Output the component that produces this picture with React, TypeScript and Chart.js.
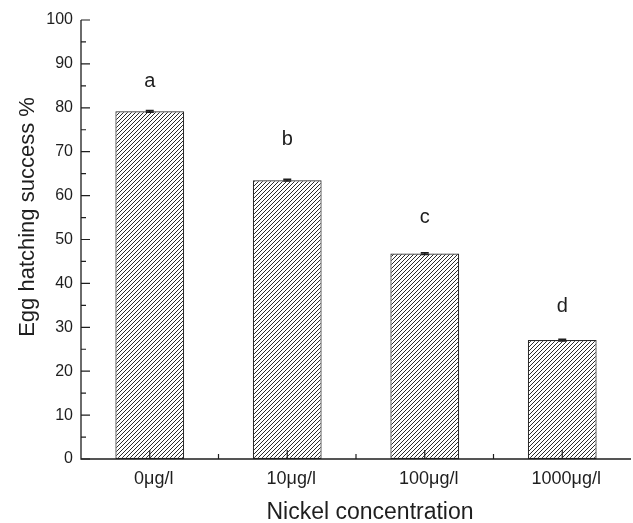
import React, { useEffect, useRef } from "react";
import { Chart, registerables } from "chart.js";

Chart.register(...registerables);

const categories = ["0μg/l", "10μg/l", "100μg/l", "1000μg/l"];
const hatchingSuccess = [79.2, 63.5, 46.8, 27.1];
const errorValues = [0.2, 0.2, 0.2, 0.2];
const letters = ["a", "b", "c", "d"];
const letterBaselines = [84.7, 71.5, 53.8, 33.5];
const yMin = 0;
const yMax = 100;
const yStep = 10;
const yMinorStep = 5;
const xTitle = "Nickel concentration";
const yTitle = "Egg hatching success %";

const FONT = "'Liberation Sans', Arial, Helvetica, sans-serif";
const INK = "#1e1e1e";

function makeHatch(): CanvasPattern | string {
  const c = document.createElement("canvas");
  c.width = 4;
  c.height = 4;
  const g = c.getContext("2d");
  if (!g) return "#ccc";
  g.fillStyle = "#ffffff";
  g.fillRect(0, 0, 4, 4);
  g.strokeStyle = "#2a2a2a";
  g.lineWidth = 1;
  g.beginPath();
  g.moveTo(-1, 5);
  g.lineTo(5, -1);
  g.moveTo(-1, 1);
  g.lineTo(1, -1);
  g.moveTo(3, 5);
  g.lineTo(5, 3);
  g.stroke();
  const p = g.createPattern(c, "repeat");
  return p || "#ccc";
}

const decorPlugin = {
  id: "decor",
  afterDatasetsDraw(chart: any) {
    const ctx: CanvasRenderingContext2D = chart.ctx;
    const { left, right, top, bottom } = chart.chartArea;
    const xs = chart.scales.x;
    const ys = chart.scales.y;
    const meta = chart.getDatasetMeta(0);
    ctx.save();

    // error bars
    ctx.strokeStyle = INK;
    ctx.lineWidth = 1.5;
    meta.data.forEach((bar: any, i: number) => {
      const v = hatchingSuccess[i];
      const e = errorValues[i];
      const yt = ys.getPixelForValue(v + e);
      const yb = ys.getPixelForValue(v - e);
      ctx.beginPath();
      ctx.moveTo(bar.x, yt);
      ctx.lineTo(bar.x, yb);
      ctx.moveTo(bar.x - 4, yt);
      ctx.lineTo(bar.x + 4, yt);
      ctx.moveTo(bar.x - 4, yb);
      ctx.lineTo(bar.x + 4, yb);
      ctx.stroke();
    });

    // letters
    ctx.fillStyle = INK;
    ctx.font = `20px ${FONT}`;
    ctx.textAlign = "center";
    ctx.textBaseline = "alphabetic";
    meta.data.forEach((bar: any, i: number) => {
      ctx.fillText(letters[i], bar.x, ys.getPixelForValue(letterBaselines[i]));
    });

    // axes
    ctx.strokeStyle = INK;
    ctx.lineWidth = 1.3;
    ctx.beginPath();
    ctx.moveTo(left, top);
    ctx.lineTo(left, bottom);
    ctx.lineTo(right, bottom);
    ctx.stroke();

    ctx.lineWidth = 1.2;
    ctx.beginPath();
    for (let v = yMin; v <= yMax + 1e-9; v += yMinorStep) {
      const y = ys.getPixelForValue(v);
      const major = Math.abs(v / yStep - Math.round(v / yStep)) < 1e-6;
      ctx.moveTo(left, y);
      ctx.lineTo(left + (major ? 9 : 5), y);
    }
    const n = categories.length;
    for (let i = 0; i < n; i++) {
      const xc = xs.getPixelForValue(i);
      ctx.moveTo(xc, bottom);
      ctx.lineTo(xc, bottom - 9);
      if (i < n - 1) {
        const xb = (xs.getPixelForValue(i) + xs.getPixelForValue(i + 1)) / 2;
        ctx.moveTo(xb, bottom);
        ctx.lineTo(xb, bottom - 5);
      }
    }
    ctx.stroke();

    // titles
    ctx.fillStyle = INK;
    ctx.font = `23px ${FONT}`;
    ctx.textAlign = "center";
    ctx.textBaseline = "alphabetic";
    ctx.fillText(xTitle, 370, 519);

    ctx.save();
    ctx.translate(34, 217);
    ctx.rotate(-Math.PI / 2);
    ctx.font = `22px ${FONT}`;
    ctx.fillText(yTitle, 0, 0);
    ctx.restore();

    ctx.restore();
  },
};

export default function App() {
  const ref = useRef<HTMLCanvasElement | null>(null);
  useEffect(() => {
    const canvas = ref.current;
    if (!canvas) return;
    const hatch = makeHatch();
    const chart = new Chart(canvas, {
      type: "bar",
      data: {
        labels: categories,
        datasets: [
          {
            data: hatchingSuccess,
            backgroundColor: hatch as any,
            borderColor: "#2a2a2a",
            borderWidth: 1.2,
            borderSkipped: false,
            barPercentage: 0.5,
            categoryPercentage: 1.0,
          },
        ],
      },
      options: {
        animation: false,
        responsive: false,
        maintainAspectRatio: false,
        devicePixelRatio: 1,
        layout: { padding: { top: 20, right: 2, left: 0, bottom: 0 } },
        plugins: { legend: { display: false }, tooltip: { enabled: false } },
        scales: {
          x: {
            offset: true,
            grid: { display: false, drawTicks: false },
            border: { display: false },
            ticks: {
              color: INK,
              font: { family: FONT, size: 18 },
              padding: 9,
              labelOffset: 4,
              maxRotation: 0,
              autoSkip: false,
            },
            afterFit: (s: any) => {
              s.height = 64;
            },
          },
          y: {
            min: yMin,
            max: yMax,
            grid: { display: false, drawTicks: false },
            border: { display: false },
            ticks: {
              stepSize: yStep,
              color: INK,
              font: { family: FONT, size: 16 },
              padding: 8,
            },
            afterFit: (s: any) => {
              s.width = 81;
            },
          },
        },
      },
      plugins: [decorPlugin],
    });
    return () => chart.destroy();
  }, []);
  return (
    <div style={{ position: "fixed", left: 0, top: 0, width: 633, height: 523, background: "#fff" }}>
      <canvas ref={ref} width={633} height={523} style={{ display: "block" }} />
    </div>
  );
}
